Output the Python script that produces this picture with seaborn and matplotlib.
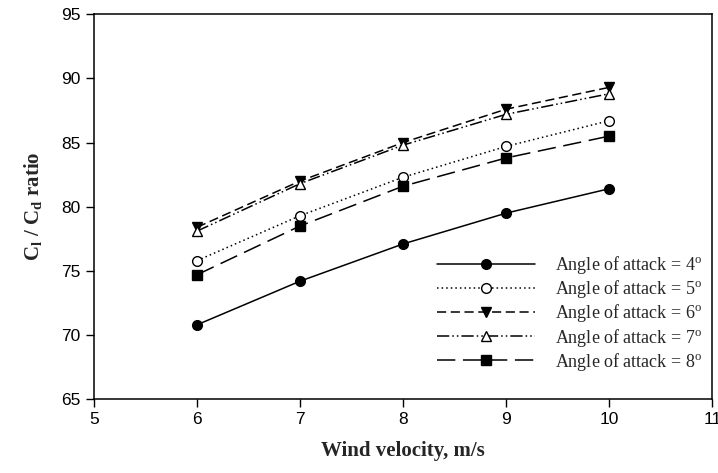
import matplotlib
matplotlib.use("Agg")
import matplotlib.pyplot as plt
import seaborn as sns
import pandas as pd

velocity = [6, 7, 8, 9, 10]
aoa4 = [70.8, 74.2, 77.1, 79.5, 81.4]
aoa5 = [75.8, 79.3, 82.3, 84.7, 86.7]
aoa6 = [78.4, 82.0, 85.0, 87.6, 89.3]
aoa7 = [78.1, 81.8, 84.8, 87.2, 88.8]
aoa8 = [74.7, 78.5, 81.6, 83.8, 85.5]
labels = ["Angle of attack = 4$^{\\mathrm{o}}$",
          "Angle of attack = 5$^{\\mathrm{o}}$",
          "Angle of attack = 6$^{\\mathrm{o}}$",
          "Angle of attack = 7$^{\\mathrm{o}}$",
          "Angle of attack = 8$^{\\mathrm{o}}$"]
xticks = [5, 6, 7, 8, 9, 10, 11]
yticks = [65, 70, 75, 80, 85, 90, 95]

sns.set_style("ticks")
plt.rcParams["mathtext.fontset"] = "custom"
plt.rcParams["mathtext.rm"] = "Liberation Serif"
plt.rcParams["mathtext.bf"] = "Liberation Serif:bold"
plt.rcParams["font.family"] = ["Liberation Sans", "DejaVu Sans"]

fig = plt.figure(figsize=(7.18, 4.73), dpi=100)
ax = fig.add_axes([0.131, 0.156, 0.861, 0.814])

series = [aoa4, aoa5, aoa6, aoa7, aoa8]
styles = [
    dict(ls="-", marker="o", mfc="black"),
    dict(ls=(0, (1, 2)), marker="o", mfc="white"),
    dict(ls=(0, (6, 3)), marker="v", mfc="black"),
    dict(ls=(0, (8, 2, 1, 2, 1, 2)), marker="^", mfc="white"),
    dict(ls=(0, (12, 5)), marker="s", mfc="black"),
]
for vals, lab, st in zip(series, labels, styles):
    df = pd.DataFrame({"v": velocity, "r": vals})
    sns.lineplot(data=df, x="v", y="r", ax=ax, color="black", lw=1.1,
                 linestyle=st["ls"], marker=st["marker"], markersize=7,
                 markerfacecolor=st["mfc"], markeredgecolor="black",
                 markeredgewidth=1.0, label=lab)

ax.set_xlim(5, 11)
ax.set_ylim(65, 95)
ax.set_xticks(xticks)
ax.set_yticks(yticks)
ax.tick_params(direction="out", length=6, width=1, labelsize=12.5, colors="black")
for s in ax.spines.values():
    s.set_linewidth(1.1)
    s.set_color("black")
ax.set_xlabel("Wind velocity, m/s", fontsize=15, fontweight="bold",
              family="Liberation Serif", labelpad=10)
ax.set_ylabel("C$_{\\mathbf{l}}$ / C$_{\\mathbf{d}}$ ratio", fontsize=15,
              fontweight="bold", family="Liberation Serif", labelpad=12)

leg = ax.legend(loc="upper left", bbox_to_anchor=(0.555, 0.377), frameon=False,
                borderaxespad=0, borderpad=0,
                handlelength=5.4, handletextpad=1.15, labelspacing=0.12,
                prop={"family": "Liberation Serif", "size": 13})

fig.savefig("out.png", dpi=100)
